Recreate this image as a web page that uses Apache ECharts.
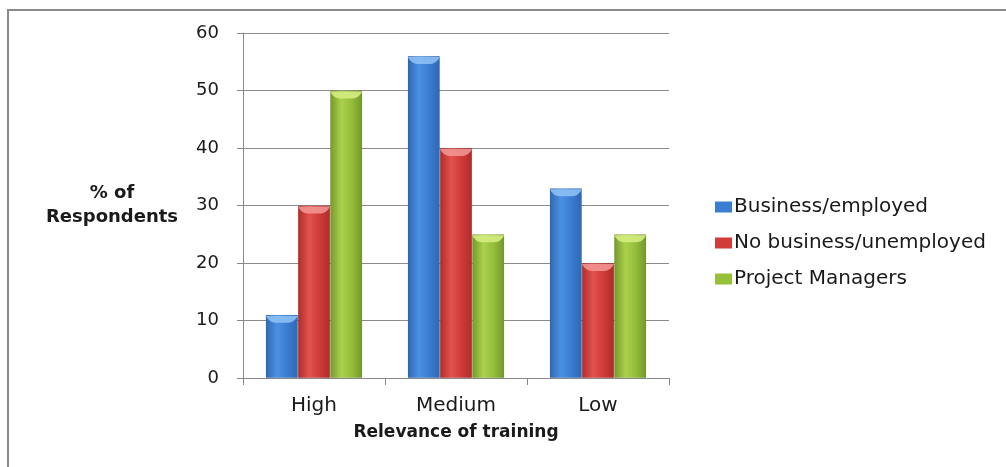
<!DOCTYPE html>
<html>
<head>
<meta charset="utf-8">
<script src="https://cdn.jsdelivr.net/npm/echarts@6/dist/echarts.min.js"></script>
<style>
  html, body { margin: 0; padding: 0; background: #fff; }
  #chart { width: 1006px; height: 467px; }
</style>
</head>
<body>
<div id="chart"></div>
<script>
// Relevance of training by respondent group (% of respondents)
const categories = ['High', 'Medium', 'Low'];
const businessEmployed = [11, 56, 33];
const noBusinessUnemployed = [30, 40, 20];
const projectManagers = [50, 25, 25];
const seriesNames = ['Business/employed', 'No business/unemployed', 'Project Managers'];
const yTicks = { min: 0, max: 60, interval: 10 };

const FONT = '"DejaVu Sans", sans-serif';
const BAR_GAP = '0%';
const CATEGORY_GAP = '32%';

// Horizontal gradient giving each bar a rounded, shaded look
function shade(edge, mid, light) {
  return new echarts.graphic.LinearGradient(0, 0, 1, 0, [
    { offset: 0, color: edge },
    { offset: 0.35, color: light },
    { offset: 0.65, color: mid },
    { offset: 1, color: edge }
  ]);
}

const palette = [
  { flat: '#3b7dd0', cap: '#8cc0f4', fill: shade('#2f67b2', '#3b7dd2', '#4b91e2') },
  { flat: '#d13b38', cap: '#f29490', fill: shade('#ad2c2a', '#d03c39', '#e2524e') },
  { flat: '#96bf3a', cap: '#d4ec82', fill: shade('#73982a', '#96bf3b', '#abd04c') }
];

const valueSets = [businessEmployed, noBusinessUnemployed, projectManagers];

// Bowl-shaped highlight drawn at the top of each bar
const CAP_PATH = 'path://M0,0 L100,0 Q88,100 70,100 L30,100 Q12,100 0,0 Z';

const barSeries = valueSets.map((vals, i) => ({
  name: seriesNames[i],
  type: 'bar',
  data: vals,
  barGap: BAR_GAP,
  barCategoryGap: CATEGORY_GAP,
  itemStyle: { color: palette[i].fill, borderColor: 'rgba(0,0,0,0.12)', borderWidth: 0.5 }
}));

const capSeries = valueSets.map((vals, i) => ({
  name: seriesNames[i] + ' cap',
  type: 'pictorialBar',
  data: vals,
  barGap: BAR_GAP,
  barCategoryGap: CATEGORY_GAP,
  symbol: CAP_PATH,
  symbolSize: ['100%', 7],
  symbolPosition: 'end',
  symbolOffset: [0, 1],
  itemStyle: { color: palette[i].cap, opacity: 0.9 },
  silent: true,
  z: 3
}));

const chart = echarts.init(document.getElementById('chart'));
chart.setOption({
  animation: false,
  backgroundColor: '#fff',
  textStyle: { fontFamily: FONT },
  graphic: [{
    type: 'rect',
    shape: { x: 8, y: 10, width: 1200, height: 600 },
    style: { fill: 'none', stroke: '#8a8a8a', lineWidth: 2 },
    silent: true
  }],
  grid: { left: 243, right: 337, top: 33, bottom: 89 },
  legend: {
    orient: 'vertical',
    left: 710,
    top: 192,
    itemGap: 16,
    itemWidth: 17,
    itemHeight: 11,
    itemStyle: { borderWidth: 0 },
    icon: 'rect',
    textStyle: { fontSize: 20, color: '#1a1a1a', fontFamily: FONT, padding: [0, 0, 0, -3] },
    data: seriesNames.map((n, i) => ({ name: n, itemStyle: { color: palette[i].flat } }))
  },
  xAxis: {
    type: 'category',
    data: categories,
    name: 'Relevance of training',
    nameLocation: 'middle',
    nameGap: 46,
    nameTextStyle: { fontSize: 17, fontWeight: 'bold', color: '#1a1a1a', fontFamily: FONT },
    axisLine: { lineStyle: { color: '#888', width: 1 } },
    axisTick: { show: true, length: 7, lineStyle: { color: '#888' } },
    axisLabel: { fontSize: 20, color: '#1a1a1a', margin: 18, fontFamily: FONT }
  },
  yAxis: {
    type: 'value',
    min: yTicks.min,
    max: yTicks.max,
    interval: yTicks.interval,
    name: '% of\nRespondents',
    nameLocation: 'middle',
    nameRotate: 0,
    nameGap: 131,
    nameTextStyle: { fontSize: 18, fontWeight: 'bold', color: '#1a1a1a', align: 'center', lineHeight: 24, fontFamily: FONT, padding: [12, 0, 0, 0] },
    axisLine: { show: true, lineStyle: { color: '#888', width: 1 } },
    axisTick: { show: true, length: 6, lineStyle: { color: '#888' } },
    axisLabel: { fontSize: 18, color: '#1a1a1a', margin: 24, fontFamily: FONT },
    splitLine: { lineStyle: { color: '#8c8c8c', width: 1 } }
  },
  series: barSeries.concat(capSeries)
});
</script>
</body>
</html>
